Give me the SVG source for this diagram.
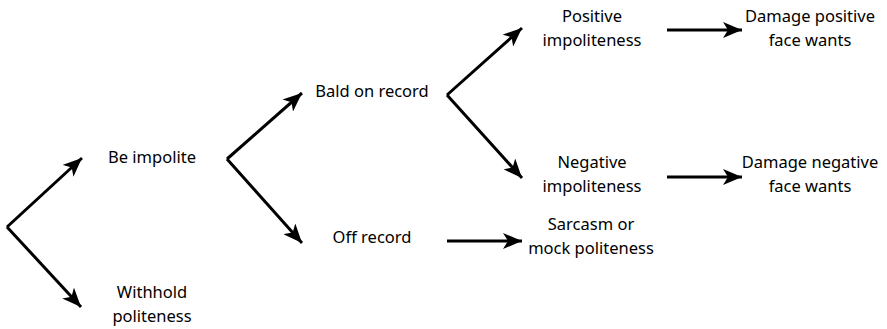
<svg xmlns="http://www.w3.org/2000/svg" width="887" height="329" viewBox="0 0 887 329">
<style>
text{font-family:"Noto Sans","Open Sans",sans-serif;font-size:16.5px;fill:#000;text-anchor:middle}
.c line{stroke:#000;stroke-width:3;fill:none}
</style>
<defs>
<marker id="ah" markerUnits="userSpaceOnUse" markerWidth="20" markerHeight="16" viewBox="0 0 20 16" refX="19" refY="8" orient="auto">
<path d="M0,0 L19,8 L0,16 L5,8 Z" fill="#000"/>
</marker>
</defs>
<rect width="887" height="329" fill="#fff"/>
<g class="c" id="connectors">
<line x1="7" y1="227" x2="82" y2="158" marker-end="url(#ah)"/>
<line x1="7" y1="227" x2="81" y2="307" marker-end="url(#ah)"/>
<line x1="227" y1="159" x2="302" y2="93" marker-end="url(#ah)"/>
<line x1="227" y1="159" x2="302" y2="243" marker-end="url(#ah)"/>
<line x1="447" y1="95" x2="522" y2="28" marker-end="url(#ah)"/>
<line x1="447" y1="95" x2="522" y2="178" marker-end="url(#ah)"/>
<line x1="667" y1="30" x2="742" y2="30" marker-end="url(#ah)"/>
<line x1="667" y1="177" x2="742" y2="177" marker-end="url(#ah)"/>
<line x1="447" y1="241" x2="522" y2="241" marker-end="url(#ah)"/>
</g>
<g id="be-impolite"><text x="152" y="163">Be impolite</text></g>
<g id="withhold"><text x="152" y="298">Withhold</text><text x="152" y="322">politeness</text></g>
<g id="bald"><text x="372" y="97">Bald on record</text></g>
<g id="off"><text x="372" y="243">Off record</text></g>
<g id="positive"><text x="592" y="22">Positive</text><text x="592" y="46">impoliteness</text></g>
<g id="negative"><text x="592" y="168">Negative</text><text x="592" y="192">impoliteness</text></g>
<g id="sarcasm"><text x="591" y="230">Sarcasm or</text><text x="591" y="254">mock politeness</text></g>
<g id="dmg-pos"><text x="810" y="22">Damage positive</text><text x="810" y="46">face wants</text></g>
<g id="dmg-neg"><text x="810" y="168">Damage negative</text><text x="810" y="192">face wants</text></g>
</svg>
